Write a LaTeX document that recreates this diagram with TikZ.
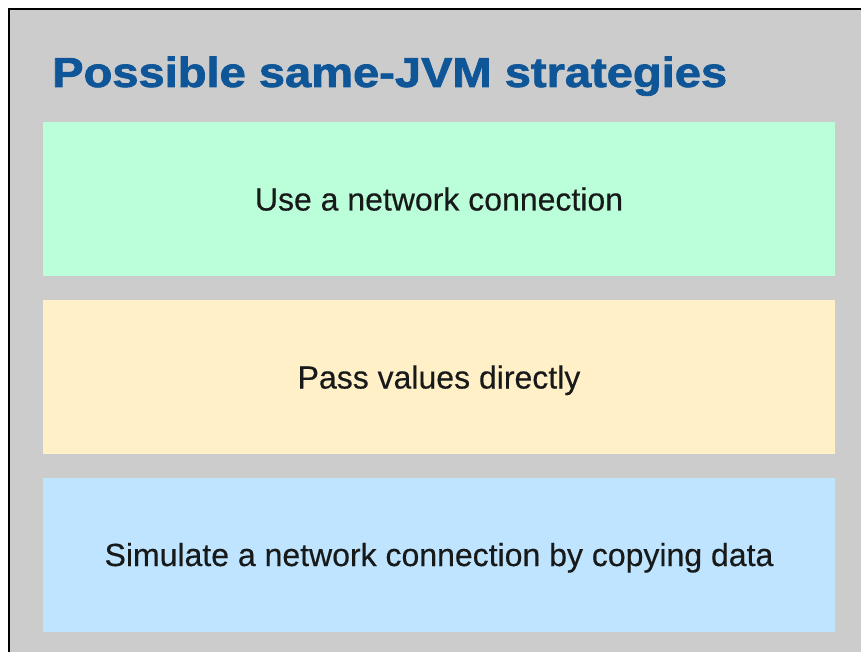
\documentclass[tikz,border=0pt]{standalone}
\usepackage{fontspec}
\setmainfont{Liberation Sans}
\newfontfamily\titlefont[FakeBold=1.6]{Liberation Sans Bold}
\newfontfamily\bodyfont[FakeBold=0.4]{Liberation Sans}
\usepackage{graphicx}
\definecolor{bggray}{RGB}{204,204,204}
\definecolor{titleblue}{RGB}{14,86,152}
\definecolor{boxgreen}{RGB}{187,255,218}
\definecolor{boxyellow}{RGB}{255,240,200}
\definecolor{boxblue}{RGB}{190,228,255}
\definecolor{textdark}{RGB}{24,26,26}
\tikzset{
  panel/.style={draw=none, minimum width=792pt, minimum height=154pt, inner sep=0pt,
    text height=23pt, text depth=0pt, font=\bodyfont\fontsize{32pt}{36pt}\selectfont, text=textdark},
}
\begin{document}
\begin{tikzpicture}[x=1pt,y=-1pt]
\useasboundingbox (0,0) rectangle (861,652);
\fill[white] (0,0) rectangle (861,652);
\fill[bggray] (9,9) rectangle (861,652);
\draw[line width=2.5pt] (9,652) -- (9,9) -- (861,9);
\node[anchor=base west, inner sep=0pt, text=titleblue, font=\titlefont\fontsize{42pt}{46pt}\selectfont] (title) at (52,87)
  {\resizebox{675pt}{\height}{Possible same-JVM strategies}};
\node[panel, fill=boxgreen] (net) at (439,199) {Use a network connection};
\node[panel, fill=boxyellow] (pass) at (439,377) {Pass values directly};
\node[panel, fill=boxblue] (sim) at (439,554.5) {Simulate a network connection by copying data};
\end{tikzpicture}
\end{document}
